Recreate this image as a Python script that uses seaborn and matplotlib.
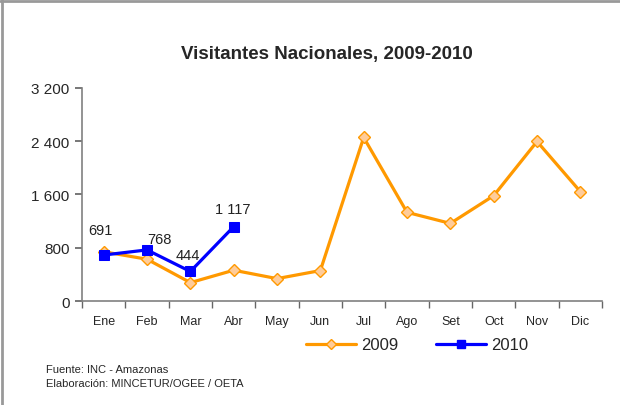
import numpy as np
import pandas as pd
import matplotlib
matplotlib.use("Agg")
import matplotlib.pyplot as plt
from matplotlib.lines import Line2D
import seaborn as sns

months = ["Ene", "Feb", "Mar", "Abr", "May", "Jun",
          "Jul", "Ago", "Set", "Oct", "Nov", "Dic"]
v2009 = [740, 628, 277, 463, 337, 458, 2456, 1332, 1166, 1582, 2396, 1643]
v2010 = [691, 768, 444, 1117]
label_2010 = ["691", "768", "444", "1 117"]
yticks = [0, 800, 1600, 2400, 3200]
ytick_labels = ["0", "800", "1 600", "2 400", "3 200"]

ORANGE = "#FF9900"
ORANGE_FILL = "#FFCC99"
BLUE = "#0000FF"

sns.set_theme(style="white")
plt.rcParams["font.family"] = ["Liberation Sans", "DejaVu Sans"]

fig = plt.figure(figsize=(6.2, 4.06), dpi=100)
ax = fig.add_axes([0.1323, 0.256, 0.8387, 0.525])

df09 = pd.DataFrame({"x": np.arange(len(months)), "y": v2009})
df10 = pd.DataFrame({"x": np.arange(len(v2010)), "y": v2010})

sns.lineplot(data=df09, x="x", y="y", ax=ax, color=ORANGE, linewidth=2.3,
             marker="D", markersize=6, markerfacecolor=ORANGE_FILL,
             markeredgecolor=ORANGE, markeredgewidth=1)
sns.lineplot(data=df10, x="x", y="y", ax=ax, color=BLUE, linewidth=2.3,
             marker="s", markersize=7, markerfacecolor=BLUE,
             markeredgecolor=BLUE)

# data labels for 2010 (offsets in points)
offsets = [(-2, 13), (9, 3), (-2, 7), (-1, 8)]
for i, (val, lab) in enumerate(zip(v2010, label_2010)):
    ax.annotate(lab, (i, val), xytext=offsets[i], textcoords="offset points",
                ha="center", va="bottom", fontsize=10.5, color="#222222")

ax.set_xlim(-0.5, len(months) - 0.5)
ax.set_ylim(0, 3200)
ax.set_yticks(yticks)
ax.set_yticklabels(ytick_labels, fontsize=11)
ax.set_xticks(np.arange(len(months)))
ax.set_xticklabels(months, fontsize=9)
ax.set_xticks(np.arange(-0.5, len(months)), minor=True)
ax.tick_params(axis="x", which="major", length=0, pad=10)
ax.tick_params(axis="x", which="minor", length=5, color="#666666",
               direction="out", bottom=True)
ax.tick_params(axis="y", length=5, color="#666666", direction="out",
               left=True, pad=4)
ax.set_xlabel("")
ax.set_ylabel("")
for s in ["top", "right"]:
    ax.spines[s].set_visible(False)
for s in ["left", "bottom"]:
    ax.spines[s].set_color("#808080")
    ax.spines[s].set_linewidth(1.2)

fig.text(0.527, 0.865, "Visitantes Nacionales, 2009-2010", ha="center",
         va="center", fontsize=13.5, fontweight="bold")

handles = [
    Line2D([], [], color=ORANGE, linewidth=2.3, marker="D", markersize=5,
           markerfacecolor=ORANGE_FILL, markeredgecolor=ORANGE),
    Line2D([], [], color=BLUE, linewidth=2.3, marker="s", markersize=6,
           markerfacecolor=BLUE, markeredgecolor=BLUE),
]
fig.legend(handles, ["2009", "2010"], loc="center", ncol=2,
           bbox_to_anchor=(0.673, 0.148), frameon=False, fontsize=12,
           handlelength=3, columnspacing=2.3, handletextpad=0.3)

fig.text(0.074, 0.088, "Fuente: INC - Amazonas", fontsize=8, va="center")
fig.text(0.074, 0.054, "Elaboración: MINCETUR/OGEE / OETA", fontsize=8,
         va="center")

# frame lines on top and left of the picture
fig.add_artist(Line2D([0, 1], [0.996, 0.996], transform=fig.transFigure,
                      color="#999999", linewidth=2))
fig.add_artist(Line2D([0.003, 0.003], [0, 1], transform=fig.transFigure,
                      color="#999999", linewidth=2))

fig.savefig("out.png", dpi=100)
